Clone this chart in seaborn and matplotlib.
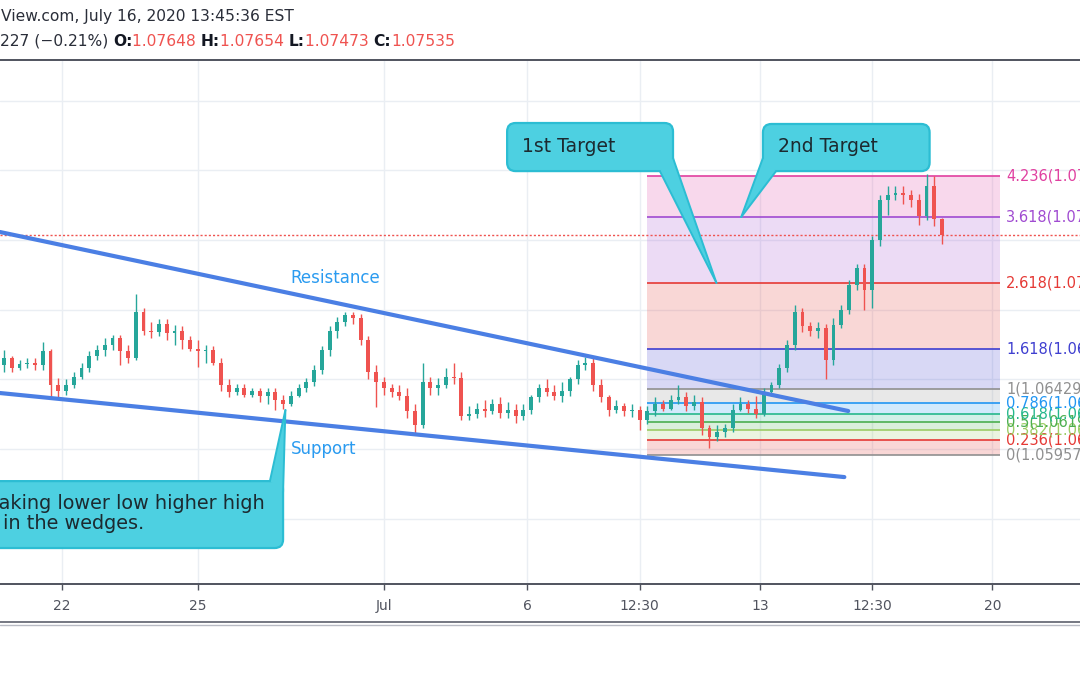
import numpy as np
import pandas as pd
import matplotlib
matplotlib.use("Agg")
import matplotlib.pyplot as plt
import seaborn as sns
from matplotlib.patches import FancyBboxPatch, Polygon

# EUR/USD 4h candles (bar index on x)
opens = [1.0660, 1.0665, 1.0658, 1.0661, 1.0662, 1.0660, 1.0670, 1.0646, 1.0642, 1.0646,
         1.0652, 1.0658, 1.0667, 1.0671, 1.0675, 1.0680, 1.0670, 1.0665, 1.0698, 1.0685,
         1.0684, 1.0690, 1.0683, 1.0685, 1.0678, 1.0672, 1.0670, 1.0671, 1.0662, 1.0646,
         1.0641, 1.0644, 1.0639, 1.0642, 1.0638, 1.0641, 1.0635, 1.0632, 1.0638, 1.0644,
         1.0648, 1.0657, 1.0671, 1.0685, 1.0691, 1.0696, 1.0694, 1.0678, 1.0655, 1.0648,
         1.0644, 1.0641, 1.0638, 1.0627, 1.0617, 1.0648, 1.0644, 1.0646, 1.0652, 1.0651,
         1.0624, 1.0625, 1.0629, 1.0627, 1.0632, 1.0626, 1.0628, 1.0624, 1.0628, 1.0637,
         1.0644, 1.0641, 1.0638, 1.0642, 1.0650, 1.0660, 1.0662, 1.0646, 1.0637, 1.0628,
         1.0631, 1.0627, 1.0628, 1.0621, 1.0627, 1.0632, 1.0629, 1.0635, 1.0637, 1.0631,
         1.0634, 1.0615, 1.0609, 1.0612, 1.0615, 1.0628, 1.0632, 1.0629, 1.0625, 1.0641,
         1.0646, 1.0658, 1.0675, 1.0698, 1.0688, 1.0685, 1.0687, 1.0664, 1.0689, 1.0700,
         1.0718, 1.0730, 1.0714, 1.0750, 1.0779, 1.0782, 1.0784, 1.0782, 1.0779, 1.0767,
         1.0789, 1.07648]
highs = [1.0671, 1.0667, 1.0664, 1.0665, 1.0665, 1.0677, 1.0672, 1.0651, 1.0650, 1.0655,
         1.0662, 1.0670, 1.0675, 1.0680, 1.0682, 1.0682, 1.0675, 1.0711, 1.0701, 1.0691,
         1.0693, 1.0693, 1.0689, 1.0688, 1.0681, 1.0678, 1.0675, 1.0674, 1.0665, 1.0650,
         1.0647, 1.0647, 1.0644, 1.0644, 1.0644, 1.0644, 1.0639, 1.0642, 1.0647, 1.0651,
         1.0660, 1.0674, 1.0688, 1.0695, 1.0698, 1.0698, 1.0697, 1.0681, 1.0660, 1.0652,
         1.0647, 1.0646, 1.0644, 1.0632, 1.0662, 1.0652, 1.0651, 1.0658, 1.0662, 1.0655,
         1.0631, 1.0633, 1.0635, 1.0636, 1.0637, 1.0634, 1.0632, 1.0632, 1.0639, 1.0647,
         1.0650, 1.0646, 1.0648, 1.0652, 1.0664, 1.0666, 1.0665, 1.0650, 1.0639, 1.0635,
         1.0633, 1.0632, 1.0631, 1.0631, 1.0637, 1.0635, 1.0639, 1.0646, 1.0641, 1.0639,
         1.0637, 1.0617, 1.0617, 1.0618, 1.0632, 1.0637, 1.0635, 1.0638, 1.0644, 1.0648,
         1.0661, 1.0678, 1.0703, 1.0701, 1.0691, 1.0691, 1.0690, 1.0694, 1.0703, 1.0721,
         1.0733, 1.0733, 1.0753, 1.0782, 1.0789, 1.0789, 1.0789, 1.0786, 1.0783, 1.0797,
         1.0796, 1.07654]
lows = [1.0655, 1.0655, 1.0657, 1.0658, 1.0657, 1.0657, 1.0637, 1.0637, 1.0639, 1.0644,
        1.0650, 1.0655, 1.0664, 1.0667, 1.0671, 1.0660, 1.0662, 1.0664, 1.0682, 1.0680,
        1.0681, 1.0678, 1.0675, 1.0672, 1.0670, 1.0659, 1.0662, 1.0660, 1.0642, 1.0637,
        1.0639, 1.0637, 1.0637, 1.0634, 1.0632, 1.0628, 1.0629, 1.0631, 1.0637, 1.0641,
        1.0645, 1.0654, 1.0667, 1.0680, 1.0688, 1.0690, 1.0675, 1.0650, 1.0630, 1.0639,
        1.0637, 1.0635, 1.0622, 1.0611, 1.0615, 1.0639, 1.0639, 1.0644, 1.0647, 1.0621,
        1.0621, 1.0622, 1.0623, 1.0625, 1.0622, 1.0622, 1.0619, 1.0621, 1.0625, 1.0634,
        1.0638, 1.0635, 1.0634, 1.0638, 1.0647, 1.0657, 1.0642, 1.0634, 1.0624, 1.0626,
        1.0624, 1.0623, 1.0614, 1.0618, 1.0624, 1.0627, 1.0628, 1.0632, 1.0627, 1.0628,
        1.0610, 1.0601, 1.0606, 1.0609, 1.0612, 1.0627, 1.0626, 1.0622, 1.0624, 1.0638,
        1.0644, 1.0655, 1.0671, 1.0684, 1.0681, 1.0680, 1.0650, 1.0660, 1.0687, 1.0697,
        1.0714, 1.0700, 1.0701, 1.0746, 1.0768, 1.0779, 1.0776, 1.0774, 1.0761, 1.0764,
        1.0760, 1.07473]
closes = [1.0665, 1.0658, 1.0661, 1.0662, 1.0660, 1.0670, 1.0646, 1.0642, 1.0646, 1.0652,
          1.0658, 1.0667, 1.0671, 1.0675, 1.0680, 1.0670, 1.0665, 1.0698, 1.0685, 1.0684,
          1.0690, 1.0683, 1.0685, 1.0678, 1.0672, 1.0670, 1.0671, 1.0662, 1.0646, 1.0641,
          1.0644, 1.0639, 1.0642, 1.0638, 1.0641, 1.0635, 1.0632, 1.0638, 1.0644, 1.0648,
          1.0657, 1.0671, 1.0685, 1.0691, 1.0696, 1.0694, 1.0678, 1.0655, 1.0648, 1.0644,
          1.0641, 1.0638, 1.0627, 1.0617, 1.0648, 1.0644, 1.0646, 1.0652, 1.0651, 1.0624,
          1.0625, 1.0629, 1.0627, 1.0632, 1.0626, 1.0628, 1.0624, 1.0628, 1.0637, 1.0644,
          1.0641, 1.0638, 1.0642, 1.0650, 1.0660, 1.0662, 1.0646, 1.0637, 1.0628, 1.0631,
          1.0627, 1.0628, 1.0621, 1.0627, 1.0632, 1.0629, 1.0635, 1.0637, 1.0631, 1.0634,
          1.0615, 1.0609, 1.0612, 1.0615, 1.0628, 1.0632, 1.0629, 1.0625, 1.0641, 1.0646,
          1.0658, 1.0675, 1.0698, 1.0688, 1.0685, 1.0687, 1.0664, 1.0689, 1.0700, 1.0718,
          1.0730, 1.0714, 1.0750, 1.0779, 1.0782, 1.0784, 1.0782, 1.0779, 1.0767, 1.0789,
          1.0765, 1.07535]

tick_pos = [7.5, 25.0, 49.0, 67.5, 82.0, 97.5, 112.0, 127.5]
tick_labels = ["22", "25", "Jul", "6", "12:30", "13", "12:30", "20"]

fib_ratios = [0, 0.236, 0.382, 0.5, 0.618, 0.786, 1, 1.618, 2.618, 3.618, 4.236]
fib_names = ["0", "0.236", "0.382", "0.5", "0.618", "0.786", "1", "1.618", "2.618", "3.618", "4.236"]
fib_colors = ["#909090", "#e53935", "#9ccc65", "#4caf50", "#26b88c", "#2196f3",
              "#909090", "#3f3fd0", "#e53935", "#a04bd1", "#e040a0"]
fib_low, fib_high = 1.05957, 1.06429
fib_x0, fib_x1 = 83.0, 128.5

resistance_x, resistance_y = [-0.52, 108.9], [1.07557, 1.06273]
support_x, support_y = [-0.52, 108.4], [1.06402, 1.05799]
last_price = 1.07535

df = pd.DataFrame({"open": opens, "high": highs, "low": lows, "close": closes})
df["bar"] = np.arange(len(df))
df["up"] = df["close"] >= df["open"]

UP, DOWN = "#26a69a", "#ef5350"
CYAN, CYAN_EDGE = "#4dd0e1", "#2cbdd3"
AXIS = "#50535e"
INK = "#1c2a30"

sns.set_theme(style="white")
plt.rcParams["font.family"] = ["DejaVu Sans"]

fig = plt.figure(figsize=(10.8, 6.75), dpi=100, facecolor="white")
ax = fig.add_axes([0, 91 / 675, 1, 524 / 675])
ax.set_xlim(-0.516, 138.8)
ax.set_ylim(1.05032, 1.08791)

# grid
ax.set_yticks(np.arange(1.055, 1.0851, 0.005))
ax.set_xticks(tick_pos)
ax.set_xticklabels(tick_labels)
ax.grid(True, color="#eaeef3", lw=1, zorder=0)
ax.tick_params(axis="y", left=False, labelleft=False)
ax.tick_params(axis="x", bottom=True, length=4, width=1, color=AXIS,
               labelsize=10, labelcolor=AXIS, pad=7)
for side in ["left", "right"]:
    ax.spines[side].set_visible(False)
for side in ["top", "bottom"]:
    ax.spines[side].set_color(AXIS)
    ax.spines[side].set_linewidth(1.4)

# fibonacci extension
fib_prices = [fib_low + r * (fib_high - fib_low) for r in fib_ratios]
for i in range(1, len(fib_prices)):
    ax.fill_between([fib_x0, fib_x1], fib_prices[i - 1], fib_prices[i],
                    color=fib_colors[i], alpha=0.2, lw=0, zorder=1)
for p, name, c in zip(fib_prices, fib_names, fib_colors):
    ax.hlines(p, fib_x0, fib_x1, color=c, lw=1.2, zorder=2)
    ax.text(129.3, p, f"{name}({p:.5f})", color=c, fontsize=10.5,
            va="center", ha="left", zorder=3)

# price line
ax.axhline(last_price, color=DOWN, ls=(0, (1.5, 1.5)), lw=1.0, zorder=2)

# candles
colors = np.where(df["up"], UP, DOWN)
ax.vlines(df["bar"], df["low"], df["high"], color=colors, lw=1, zorder=4)
body_lo = df[["open", "close"]].min(axis=1)
body_h = (df["close"] - df["open"]).abs().clip(lower=0.00002)
ax.bar(df["bar"], body_h, bottom=body_lo, width=0.5, color=colors, lw=0, zorder=4)

# wedge
sns.lineplot(x=resistance_x, y=resistance_y, ax=ax, color="#4b7fe4", lw=3.0, zorder=5)
sns.lineplot(x=support_x, y=support_y, ax=ax, color="#4b7fe4", lw=3.0, zorder=5)
ax.text(37.0, 1.07227, "Resistance", color="#2a9bf0", fontsize=12, va="center", zorder=5)
ax.text(37.0, 1.0600, "Support", color="#2a9bf0", fontsize=12, va="center", zorder=5)

# callouts
fig.canvas.draw()
bbox = ax.get_window_extent()
aspect = ((1.08791 - 1.05032) / bbox.height) / ((138.8 + 0.516) / bbox.width)


def callout(x0, x1, y0, y1, tail):
    ax.add_patch(FancyBboxPatch((x0, y0), x1 - x0, y1 - y0,
                                boxstyle="round,pad=0,rounding_size=1.1",
                                mutation_aspect=aspect, fc=CYAN, ec=CYAN_EDGE,
                                lw=1.6, zorder=6))
    ax.add_patch(Polygon(tail, closed=True, fc=CYAN, ec="none", zorder=7))
    for a in (tail[0], tail[1]):
        ax.plot([a[0], tail[2][0]], [a[1], tail[2][1]], color=CYAN_EDGE, lw=1.4, zorder=7)


callout(64.9, 86.3, 1.07994, 1.08339,
        [(84.6, 1.07994), (86.3, 1.08088), (91.9, fib_prices[8])])
callout(97.9, 119.4, 1.07994, 1.08332,
        [(99.6, 1.07994), (97.9, 1.08088), (95.1, fib_prices[9])])
callout(-3.1, 36.0, 1.05290, 1.05770,
        [(34.3, 1.05770), (36.0, 1.05692), (36.3, 1.06280)])

ax.text(66.8, 1.08174, "1st Target", fontsize=13.5, color=INK, va="center", zorder=8)
ax.text(99.9, 1.08174, "2nd Target", fontsize=13.5, color=INK, va="center", zorder=8)
ax.text(33.7, 1.05613, "making lower low higher high", fontsize=13.9, color=INK,
        va="center", ha="right", zorder=8)
ax.text(-0.13, 1.05469, "in the wedges.", fontsize=13.9, color=INK,
        va="center", ha="left", zorder=8)

# header
fig.text(0.001, 1 - 16 / 675, "View.com, July 16, 2020 13:45:36 EST",
         fontsize=11.2, color="#2a2e39", va="center")
parts = [("O:", "#131722", "bold"), ("1.07648 ", DOWN, "normal"),
         ("H:", "#131722", "bold"), ("1.07654 ", DOWN, "normal"),
         ("L:", "#131722", "bold"), ("1.07473 ", DOWN, "normal"),
         ("C:", "#131722", "bold"), ("1.07535", DOWN, "normal")]
prev = fig.text(0.0, 1 - 49 / 675, "227 (\u22120.21%) ", fontsize=11.2,
                color="#2a2e39", va="bottom")
for s, c, w in parts:
    prev = ax.annotate(s, xy=(1, 0), xycoords=prev, fontsize=11.2, color=c,
                       fontweight=w, va="bottom", ha="left", annotation_clip=False)

# bottom double border
fig.add_artist(plt.Line2D([0, 1], [1 - 622 / 675] * 2, color="#6a6d78", lw=1.3))
fig.add_artist(plt.Line2D([0, 1], [1 - 625 / 675] * 2, color="#b8bbc4", lw=1.0))

fig.savefig("out.png", dpi=100, facecolor="white")
